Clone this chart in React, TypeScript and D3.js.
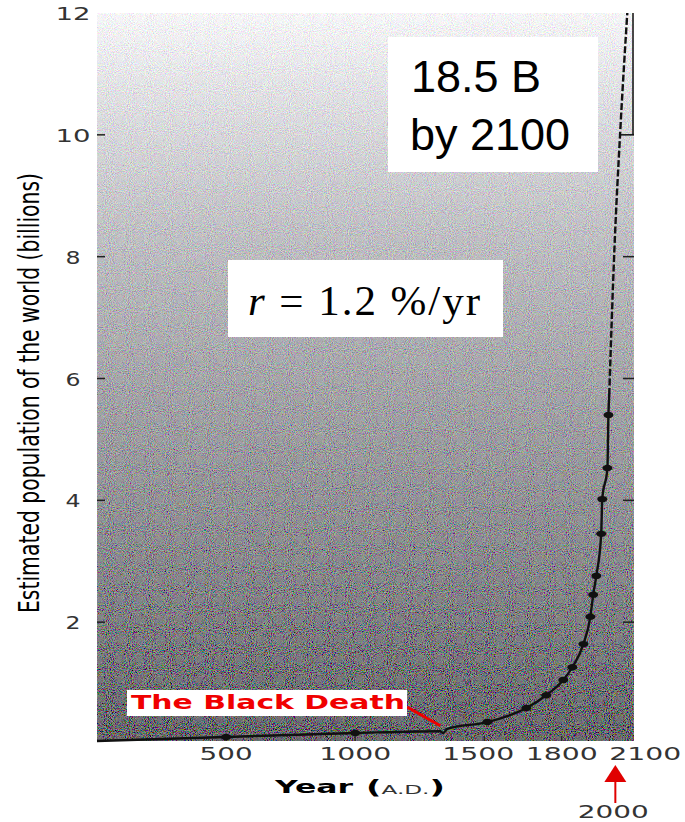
import React from "react";
import * as d3 from "d3";

// world population estimate (billions)
const years = [0, 500, 1000, 1329, 1341, 1357, 1512, 1663, 1740, 1806, 1841, 1884, 1911, 1922, 1934, 1953, 1957, 1977, 1981, 1984];
const population = [0.05, 0.115, 0.18, 0.21, 0.18, 0.25, 0.36, 0.59, 0.8, 1.05, 1.26, 1.64, 2.09, 2.45, 2.76, 3.45, 4.02, 4.53, 5.4, 5.73];
const hasDot = [false, true, true, false, false, false, true, true, true, true, true, true, true, true, true, true, true, true, true, false];

// projection (dashed)
const projYears = [1984, 2004, 2027, 2054];
const projPopulation = [5.73, 8.11, 10.08, 12.0];

const xTicks = [500, 1000, 1500, 1800, 2100];
const yTicks = [2, 4, 6, 8, 10, 12];
const blackDeathYear = 1330;
const markedYear = 2000;

const W = 685;
const H = 822;

const App = () => {
  const x = d3.scaleLinear().domain([0, 2080]).range([97, 634]);
  const y = d3.scaleLinear().domain([0, 12]).range([744, 13]);
  const plotBottom = y(0.05);
  const plotTop = y(12);

  const pts: [number, number][] = years.map((d, i) => [d, population[i]]);
  const projPts: [number, number][] = projYears.map((d, i) => [d, projPopulation[i]]);

  const line = d3
    .line<[number, number]>()
    .x((d) => x(d[0]))
    .y((d) => y(d[1]))
    .curve(d3.curveMonotoneX);

  const tickFont = "DejaVu Sans, Verdana, sans-serif";
  const nudge = (t: number) => (t === 1500 ? -6 : t === 2100 ? 6 : 0);

  return (
    <svg width={W} height={H} style={{ position: "absolute", left: 0, top: 0, background: "#fff" }}>
      <defs>
        <linearGradient id="bg" x1="0" y1="0" x2="0" y2="1">
          <stop offset="0" stopColor="#f6f6f8" />
          <stop offset="0.1" stopColor="#e2e2e5" />
          <stop offset="0.3" stopColor="#c0c0c4" />
          <stop offset="0.5" stopColor="#a6a6aa" />
          <stop offset="0.72" stopColor="#8e8e92" />
          <stop offset="1" stopColor="#6c6c70" />
        </linearGradient>
        <filter id="grain" x="0" y="0" width="100%" height="100%">
          <feTurbulence type="fractalNoise" baseFrequency="0.95" numOctaves="2" seed="7" result="n" />
          <feColorMatrix in="n" type="matrix" values="1 0 0 0 0  0 1 0 0 0  0 0 1 0 0  0 0 0 0 1" result="na" />
          <feComposite in="SourceGraphic" in2="na" operator="arithmetic" k1="0" k2="1" k3="0.9" k4="-0.45" />
        </filter>
      </defs>

      {/* plot background */}
      <rect
        x={x(0)}
        y={plotTop}
        width={x(2080) - x(0)}
        height={plotBottom - plotTop}
        fill="url(#bg)"
        filter="url(#grain)"
      />

      {/* right frame piece at top */}
      <line x1={633} x2={633} y1={plotTop} y2={y(10)} stroke="#111" strokeWidth={1.5} />
      <line x1={620} x2={634} y1={y(10)} y2={y(10)} stroke="#111" strokeWidth={1.5} />

      {/* y ticks */}
      {yTicks.filter((t) => t < 12).map((t) => (
        <g key={t}>
          <line x1={x(0)} x2={x(0) + 8} y1={y(t)} y2={y(t)} stroke="#222" strokeWidth={1.5} />
          {t < 10 && <line x1={623} x2={634} y1={y(t)} y2={y(t)} stroke="#222" strokeWidth={1.5} />}
        </g>
      ))}
      {yTicks.map((t) => (
        <text
          key={"l" + t}
          x={73}
          y={y(t) + 7}
          textAnchor="middle"
          fontFamily={tickFont}
          fontSize={18}
          fill="#333"
          textLength={t >= 10 ? 35 : 15}
          lengthAdjust="spacingAndGlyphs"
        >
          {t}
        </text>
      ))}

      {/* x ticks */}
      {xTicks.filter((t) => t < 2080).map((t) => (
        <line key={t} x1={x(t)} x2={x(t)} y1={plotBottom - 5} y2={plotBottom} stroke="#222" strokeWidth={1.2} />
      ))}
      {xTicks.map((t) => (
        <text
          key={"x" + t}
          x={x(t) + nudge(t)}
          y={760}
          textAnchor="middle"
          fontFamily={tickFont}
          fontSize={18}
          fill="#333"
          textLength={String(t).length === 4 ? 72 : 53}
          lengthAdjust="spacingAndGlyphs"
        >
          {t}
        </text>
      ))}

      {/* population curve */}
      <path d={line(pts) || ""} fill="none" stroke="#111" strokeWidth={2.4} />
      <path d={line(projPts) || ""} fill="none" stroke="#111" strokeWidth={2.4} strokeDasharray="7 2.5" />
      {pts
        .filter((_, i) => hasDot[i])
        .map((d) => (
          <ellipse key={d[0]} cx={x(d[0])} cy={y(d[1])} rx={5} ry={3.2} fill="#111" />
        ))}

      {/* Black Death annotation */}
      <line x1={407} y1={707} x2={x(blackDeathYear)} y2={y(0.3)} stroke="#ee0000" strokeWidth={3} />
      <rect x={127} y={690} width={280} height={26} fill="#fff" />
      <text
        x={131}
        y={709}
        fontFamily="DejaVu Sans, Verdana, sans-serif"
        fontWeight="bold"
        fontSize={19}
        fill="#f00000"
        textLength={274}
        lengthAdjust="spacingAndGlyphs"
      >
        The Black Death
      </text>

      {/* text boxes */}
      <rect x={388} y={37} width={210} height={135} fill="#fff" />
      <text x={411} y={92} fontFamily="Liberation Sans, Arial, sans-serif" fontSize={45} fill="#000">
        18.5 B
      </text>
      <text x={410} y={150} fontFamily="Liberation Sans, Arial, sans-serif" fontSize={45} fill="#000">
        by 2100
      </text>

      <rect x={228} y={260} width={275} height={77} fill="#fff" />
      <text
        x={248}
        y={315}
        fontFamily="Liberation Serif, Times New Roman, serif"
        fontSize={43}
        fill="#000"
        textLength={232}
        lengthAdjust="spacing"
      >
        <tspan fontStyle="italic">r</tspan> = 1.2 %/yr
      </text>

      {/* axis titles */}
      <text
        transform={`translate(39, ${(173 + 613) / 2}) rotate(-90)`}
        textAnchor="middle"
        fontFamily="Liberation Sans Narrow, DejaVu Sans Condensed, sans-serif"
        fontSize={29}
        fill="#000"
        textLength={440}
        lengthAdjust="spacingAndGlyphs"
      >
        Estimated population of the world (billions)
      </text>

      <text
        x={275}
        y={793}
        fontFamily="DejaVu Sans, Verdana, sans-serif"
        fontWeight="bold"
        fontSize={18}
        fill="#000"
        textLength={78}
        lengthAdjust="spacingAndGlyphs"
      >
        Year
      </text>
      <text
        x={366}
        y={794}
        fontFamily="DejaVu Sans, Verdana, sans-serif"
        fill="#000"
        textLength={79}
        lengthAdjust="spacingAndGlyphs"
      >
        <tspan fontWeight="bold" fontSize={19}>(</tspan>
        <tspan fontSize={13} fill="#333">A.D.</tspan>
        <tspan fontWeight="bold" fontSize={19}>)</tspan>
      </text>

      {/* 2000 marker */}
      <path
        d={`M${x(markedYear) + 2},765 L${x(markedYear) + 13},782 L${x(markedYear) - 9},782 Z`}
        fill="#e00000"
      />
      <line x1={x(markedYear) + 2} x2={x(markedYear) + 2} y1={780} y2={803} stroke="#e00000" strokeWidth={2} />
      <text
        x={x(markedYear)}
        y={818}
        textAnchor="middle"
        fontFamily={tickFont}
        fontSize={18}
        fill="#333"
        textLength={71}
        lengthAdjust="spacingAndGlyphs"
      >
        {markedYear}
      </text>
    </svg>
  );
};

export default App;
